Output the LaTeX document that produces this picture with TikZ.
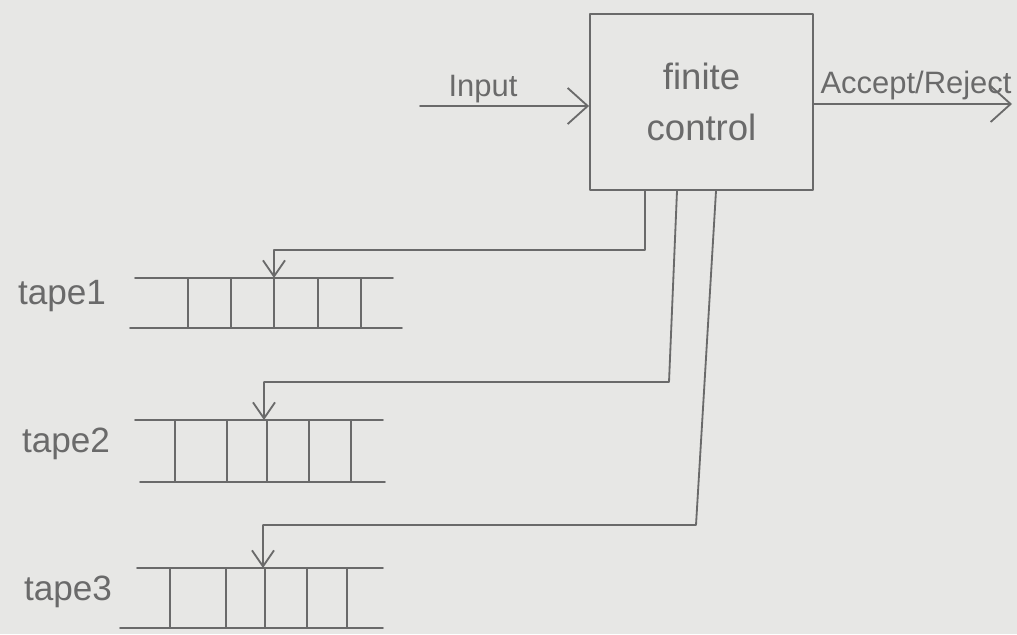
\documentclass[tikz,border=0pt]{standalone}
\usepackage{fontspec}
\setmainfont{Liberation Sans}
\usetikzlibrary{arrows.meta}
\definecolor{paper}{HTML}{E7E7E5}
\definecolor{ink}{HTML}{6A6A6A}
\tikzset{
  pen/.style={draw=ink, line width=1.3pt, line cap=round, line join=round},
  bigtip/.style={pen, -{Straight Barb[length=5mm,width=9mm,line width=1.3pt]}},
  headtip/.style={pen, -{Straight Barb[length=4mm,width=5.5mm,line width=1.3pt]}},
  lbl/.style={text=ink, inner sep=0pt, font=\fontsize{22}{26}\selectfont},
  tapelbl/.style={text=ink, inner sep=0pt, font=\fontsize{25}{28}\selectfont},
  ctrlbox/.style={pen, minimum width=5.575cm, minimum height=4.4cm, inner sep=0pt, align=center, text=ink, font=\fontsize{26}{36}\selectfont}
}
\begin{document}
\begin{tikzpicture}[x=0.025cm, y=-0.025cm]
\fill[paper] (0,0) rectangle (1017,634);
\useasboundingbox (0,0) rectangle (1017,634);

% finite control
\node[ctrlbox] (fc) at (701.5,102) {finite\\control};

% input and output
\coordinate (inL) at (420,106);
\coordinate (outR) at (1012,104);
\draw[bigtip] (inL) -- (inL -| fc.west);
\node[lbl, anchor=base] (inlbl) at (483,96) {Input};
\draw[bigtip] (outR -| fc.east) -- (outR);
\node[lbl, anchor=base] (outlbl) at (916,93) {Accept/Reject};

% tapes
\foreach \n/\yt/\yb/\xtl/\xtr/\xbl/\xbr/\va/\vb/\vc/\vd/\ve in
  {1/278/328/135/393/130/402/188/231/274/318/361,
   2/420/482/135/383/140/385/175/227/267/309/351,
   3/568/628/137/383/120/383/170/226/265/307/347}{
  \draw[pen] (\xtl,\yt) -- (\xtr,\yt);
  \draw[pen] (\xbl,\yb) -- (\xbr,\yb);
  \foreach \vx in {\va,\vb,\vc,\vd,\ve}
    \draw[pen] (\vx,\yt) -- (\vx,\yb);
}
\node[tapelbl] (t1) at (62,296) {tape1};
\node[tapelbl] (t2) at (66,444) {tape2};
\node[tapelbl] (t3) at (68,592) {tape3};

% head coordinates
\coordinate (h1) at (274,278);
\coordinate (h2) at (264,420);
\coordinate (h3) at (263,568);
\coordinate (b1) at (645,0);
\coordinate (b2) at (677,0);
\coordinate (b3) at (716,0);

% connectors from finite control to heads
\draw[headtip] (fc.south -| b1) -- (645,250) -| (h1);
\draw[headtip] (fc.south -| b2) -- (669,382) -| (h2);
\draw[headtip] (fc.south -| b3) -- (696,525) -| (h3);
\end{tikzpicture}
\end{document}
